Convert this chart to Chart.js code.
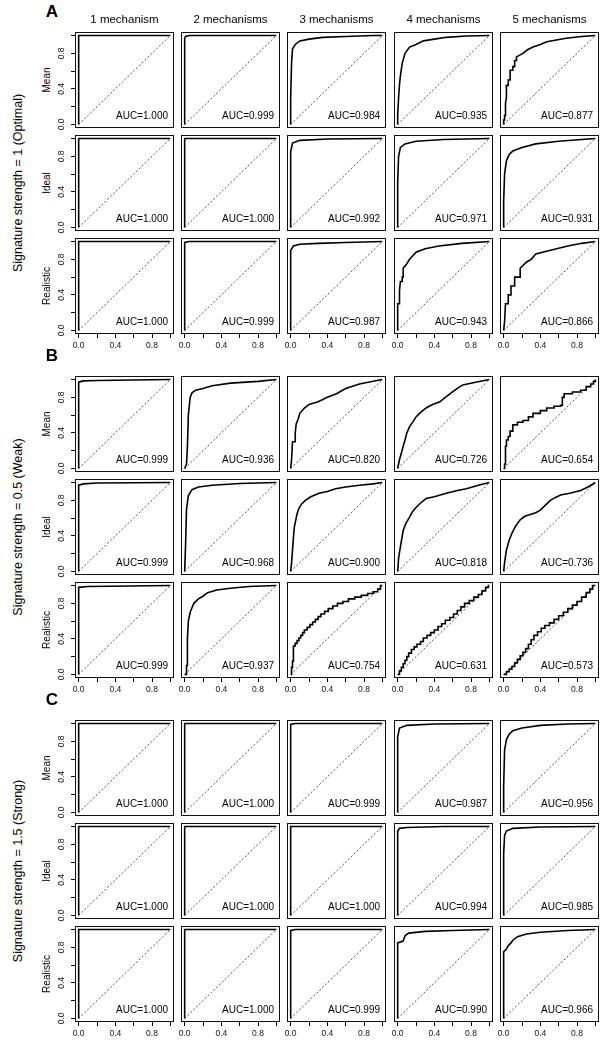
<!DOCTYPE html>
<html><head><meta charset="utf-8">
<script src="https://cdn.jsdelivr.net/npm/chart.js@4.4.1/dist/chart.umd.min.js"></script>
<style>
html,body{margin:0;padding:0;background:#fff;}
#page{position:relative;width:608px;height:1048px;overflow:hidden;font-family:"Liberation Sans",Arial,Helvetica,sans-serif;color:#000;}
.lbl{position:absolute;white-space:nowrap;line-height:1;}
.rot{transform:translate(-50%,-50%) rotate(-90deg);}
.ctr{transform:translate(-50%,-50%);}
canvas{position:absolute;}
</style></head><body><div id="page"></div>
<script>
// ---------- data ----------
const mechanisms = ["1 mechanism","2 mechanisms","3 mechanisms","4 mechanisms","5 mechanisms"];
const estimators = ["Mean","Ideal","Realistic"];
const sectionLetters = ["A","B","C"];
const sectionTitles = ["Signature strength = 1 (Optimal)","Signature strength = 0.5 (Weak)","Signature strength = 1.5 (Strong)"];
const tickValues = [0,0.2,0.4,0.6,0.8,1.0];
const tickLabels = ["0.0","","0.4","","0.8",""];
const diagonal = [0,1];

const aucA_Mean = [1.000,0.999,0.984,0.935,0.877];
const aucA_Ideal = [1.000,1.000,0.992,0.971,0.931];
const aucA_Realistic = [1.000,0.999,0.987,0.943,0.866];
const aucB_Mean = [0.999,0.936,0.820,0.726,0.654];
const aucB_Ideal = [0.999,0.968,0.900,0.818,0.736];
const aucB_Realistic = [0.999,0.937,0.754,0.631,0.573];
const aucC_Mean = [1.000,1.000,0.999,0.987,0.956];
const aucC_Ideal = [1.000,1.000,1.000,0.994,0.985];
const aucC_Realistic = [1.000,1.000,0.999,0.990,0.966];

// ROC curves: flat lists of (false positive rate, true positive rate) pairs
const rocA_Mean = [
 [0,0, 0,1, 1,1],
 [0,0, 0,0.97, 0.01,0.99, 0.05,1, 1,1],
 [0,0, 0,0.3, 0.01,0.7, 0.02,0.85, 0.05,0.9, 0.1,0.94, 0.2,0.96, 0.35,0.98, 0.6,0.99, 0.9,1, 1,1],
 [0,0, 0,0.1, 0.01,0.3, 0.02,0.45, 0.03,0.55, 0.05,0.69, 0.08,0.8, 0.13,0.87, 0.2,0.9, 0.28,0.94, 0.4,0.96, 0.53,0.98, 0.75,0.995, 1,1],
 [0,0, 0,0.05, 0.01,0.05, 0.01,0.1, 0.02,0.1, 0.02,0.24, 0.03,0.3, 0.03,0.44, 0.05,0.44, 0.05,0.5, 0.07,0.5, 0.07,0.61, 0.1,0.61, 0.1,0.65, 0.12,0.65, 0.12,0.72, 0.14,0.72, 0.14,0.76, 0.21,0.8, 0.26,0.84, 0.32,0.87, 0.4,0.9, 0.47,0.93, 0.68,0.97, 0.85,0.99, 1,1]
];
const rocA_Ideal = [
 [0,0, 0,1, 1,1],
 [0,0, 0,1, 1,1],
 [0,0, 0,0.85, 0.02,0.95, 0.1,0.98, 0.4,0.995, 1,1],
 [0,0, 0,0.5, 0.01,0.8, 0.03,0.9, 0.08,0.94, 0.2,0.97, 0.5,0.99, 1,1],
 [0,0, 0,0.3, 0.01,0.6, 0.03,0.75, 0.06,0.82, 0.1,0.86, 0.2,0.9, 0.35,0.94, 0.6,0.97, 0.85,0.99, 1,1]
];
const rocA_Realistic = [
 [0,0, 0,1, 1,1],
 [0,0, 0,0.99, 0.05,1, 1,1],
 [0,0, 0,0.9, 0.03,0.95, 0.1,0.97, 0.3,0.98, 0.6,0.99, 1,1],
 [0,0, 0,0.3, 0.02,0.3, 0.02,0.45, 0.03,0.55, 0.05,0.55, 0.05,0.6, 0.06,0.6, 0.06,0.7, 0.1,0.75, 0.13,0.8, 0.2,0.88, 0.3,0.92, 0.45,0.95, 0.7,0.98, 1,1],
 [0,0, 0.01,0.1, 0.02,0.3, 0.05,0.3, 0.05,0.4, 0.08,0.4, 0.08,0.5, 0.12,0.5, 0.12,0.6, 0.18,0.6, 0.18,0.7, 0.25,0.77, 0.3,0.8, 0.35,0.86, 0.5,0.9, 0.7,0.95, 0.85,0.98, 1,1]
];
const rocB_Mean = [
 [0,0, 0,0.97, 0.05,0.985, 0.2,0.99, 1,1],
 [0,0, 0.02,0.05, 0.03,0.25, 0.04,0.6, 0.05,0.7, 0.06,0.8, 0.08,0.85, 0.12,0.88, 0.2,0.9, 0.3,0.93, 0.5,0.96, 0.8,0.98, 1,1],
 [0,0, 0.01,0.1, 0.02,0.3, 0.05,0.3, 0.05,0.4, 0.06,0.5, 0.08,0.55, 0.1,0.62, 0.15,0.68, 0.2,0.72, 0.3,0.75, 0.4,0.8, 0.5,0.84, 0.6,0.9, 0.75,0.95, 0.9,0.98, 1,1],
 [0,0, 0.01,0.05, 0.02,0.1, 0.04,0.17, 0.06,0.25, 0.08,0.32, 0.1,0.4, 0.13,0.47, 0.17,0.53, 0.2,0.58, 0.25,0.63, 0.31,0.68, 0.38,0.72, 0.46,0.75, 0.52,0.8, 0.57,0.84, 0.65,0.9, 0.71,0.94, 0.85,0.97, 1,1],
 [0,0, 0.01,0, 0.01,0.05, 0.02,0.05, 0.02,0.25, 0.03,0.25, 0.03,0.32, 0.05,0.32, 0.05,0.36, 0.07,0.36, 0.07,0.42, 0.1,0.42, 0.1,0.49, 0.15,0.49, 0.15,0.52, 0.21,0.52, 0.21,0.54, 0.27,0.54, 0.27,0.58, 0.32,0.58, 0.32,0.62, 0.4,0.62, 0.4,0.65, 0.47,0.65, 0.47,0.68, 0.55,0.68, 0.55,0.7, 0.62,0.7, 0.62,0.71, 0.64,0.71, 0.64,0.8, 0.66,0.8, 0.66,0.84, 0.75,0.84, 0.75,0.86, 0.84,0.86, 0.84,0.88, 0.9,0.88, 0.9,0.92, 0.95,0.92, 0.95,0.95, 0.98,0.95, 0.98,0.98, 1,0.98, 1,1]
];
const rocB_Ideal = [
 [0,0, 0,0.97, 0.05,0.985, 0.2,0.995, 1,1],
 [0,0, 0.01,0.3, 0.02,0.7, 0.04,0.85, 0.08,0.92, 0.15,0.95, 0.3,0.97, 0.6,0.99, 1,1],
 [0,0, 0.01,0.1, 0.02,0.24, 0.03,0.38, 0.04,0.5, 0.07,0.65, 0.09,0.71, 0.12,0.76, 0.16,0.8, 0.22,0.84, 0.31,0.88, 0.4,0.9, 0.49,0.93, 0.6,0.95, 0.75,0.97, 0.9,0.985, 1,1],
 [0,0, 0.01,0.15, 0.03,0.28, 0.06,0.46, 0.09,0.54, 0.13,0.61, 0.16,0.67, 0.2,0.72, 0.25,0.77, 0.31,0.82, 0.4,0.84, 0.53,0.88, 0.65,0.91, 0.75,0.93, 0.88,0.97, 1,1],
 [0,0, 0.01,0.1, 0.03,0.24, 0.06,0.35, 0.09,0.43, 0.13,0.51, 0.18,0.58, 0.23,0.62, 0.29,0.64, 0.35,0.66, 0.4,0.69, 0.45,0.74, 0.51,0.8, 0.56,0.83, 0.62,0.86, 0.72,0.88, 0.84,0.91, 0.92,0.95, 1,1]
];
const rocB_Realistic = [
 [0,0, 0,0.98, 0.1,0.99, 1,1],
 [0,0, 0.02,0, 0.02,0.1, 0.03,0.1, 0.03,0.4, 0.04,0.6, 0.06,0.7, 0.08,0.75, 0.1,0.8, 0.15,0.85, 0.2,0.88, 0.25,0.92, 0.35,0.95, 0.5,0.97, 0.7,0.99, 1,1],
 [0,0, 0.01,0, 0.01,0.08, 0.02,0.08, 0.02,0.15, 0.03,0.15, 0.03,0.32, 0.05,0.32, 0.05,0.35, 0.07,0.35, 0.07,0.38, 0.09,0.38, 0.09,0.41, 0.11,0.41, 0.11,0.44, 0.13,0.44, 0.13,0.47, 0.15,0.47, 0.15,0.5, 0.18,0.5, 0.18,0.53, 0.21,0.53, 0.21,0.56, 0.24,0.56, 0.24,0.59, 0.27,0.59, 0.27,0.62, 0.3,0.62, 0.3,0.65, 0.33,0.65, 0.33,0.68, 0.37,0.68, 0.37,0.71, 0.41,0.71, 0.41,0.74, 0.46,0.74, 0.46,0.77, 0.51,0.77, 0.51,0.8, 0.57,0.8, 0.57,0.82, 0.63,0.82, 0.63,0.85, 0.7,0.85, 0.7,0.87, 0.77,0.87, 0.77,0.89, 0.84,0.89, 0.84,0.91, 0.9,0.91, 0.9,0.93, 0.95,0.93, 0.95,0.96, 0.98,0.96, 0.98,1, 1,1],
 [0,0, 0.02,0, 0.02,0.04, 0.04,0.04, 0.04,0.08, 0.06,0.08, 0.06,0.12, 0.08,0.12, 0.08,0.16, 0.1,0.16, 0.1,0.2, 0.12,0.2, 0.12,0.24, 0.15,0.24, 0.15,0.28, 0.18,0.28, 0.18,0.31, 0.21,0.31, 0.21,0.34, 0.25,0.34, 0.25,0.37, 0.28,0.37, 0.28,0.41, 0.32,0.41, 0.32,0.44, 0.36,0.44, 0.36,0.47, 0.4,0.47, 0.4,0.5, 0.44,0.5, 0.44,0.54, 0.48,0.54, 0.48,0.57, 0.52,0.57, 0.52,0.61, 0.57,0.61, 0.57,0.64, 0.61,0.64, 0.61,0.68, 0.65,0.68, 0.65,0.72, 0.69,0.72, 0.69,0.76, 0.73,0.76, 0.73,0.8, 0.78,0.8, 0.78,0.83, 0.83,0.83, 0.83,0.87, 0.88,0.87, 0.88,0.9, 0.92,0.9, 0.92,0.94, 0.96,0.94, 0.96,0.98, 0.99,0.98, 0.99,1, 1,1],
 [0,0, 0.03,0, 0.03,0.03, 0.06,0.03, 0.06,0.06, 0.09,0.06, 0.09,0.09, 0.12,0.09, 0.12,0.13, 0.15,0.13, 0.15,0.17, 0.18,0.17, 0.18,0.21, 0.21,0.21, 0.21,0.25, 0.24,0.25, 0.24,0.29, 0.27,0.29, 0.27,0.34, 0.3,0.34, 0.3,0.39, 0.33,0.39, 0.33,0.44, 0.37,0.44, 0.37,0.48, 0.41,0.48, 0.41,0.52, 0.45,0.52, 0.45,0.55, 0.5,0.55, 0.5,0.58, 0.55,0.58, 0.55,0.62, 0.6,0.62, 0.6,0.66, 0.65,0.66, 0.65,0.7, 0.7,0.7, 0.7,0.74, 0.75,0.74, 0.75,0.78, 0.8,0.78, 0.8,0.82, 0.85,0.82, 0.85,0.87, 0.9,0.87, 0.9,0.92, 0.94,0.92, 0.94,0.96, 0.97,0.96, 0.97,1, 1,1]
];
const rocC_Mean = [
 [0,0, 0,1, 1,1],
 [0,0, 0,1, 1,1],
 [0,0, 0,0.99, 0.05,1, 1,1],
 [0,0, 0,0.85, 0.02,0.95, 0.1,0.98, 0.4,0.995, 1,1],
 [0,0, 0,0.3, 0.01,0.7, 0.03,0.82, 0.06,0.88, 0.1,0.92, 0.2,0.95, 0.4,0.98, 0.7,0.995, 1,1]
];
const rocC_Ideal = [
 [0,0, 0,1, 1,1],
 [0,0, 0,1, 1,1],
 [0,0, 0,1, 1,1],
 [0,0, 0,0.95, 0.02,0.98, 0.1,0.99, 0.5,1, 1,1],
 [0,0, 0,0.7, 0.01,0.9, 0.03,0.95, 0.1,0.98, 0.4,0.995, 1,1]
];
const rocC_Realistic = [
 [0,0, 0,1, 1,1],
 [0,0, 0,1, 1,1],
 [0,0, 0,0.99, 0.05,1, 1,1],
 [0,0, 0,0.85, 0.06,0.87, 0.08,0.93, 0.12,0.96, 0.3,0.98, 0.6,0.99, 1,1],
 [0,0, 0,0.75, 0.03,0.78, 0.05,0.82, 0.08,0.85, 0.1,0.88, 0.15,0.92, 0.25,0.95, 0.4,0.97, 0.7,0.99, 1,1]
];

const rocSections = [[rocA_Mean,rocA_Ideal,rocA_Realistic],[rocB_Mean,rocB_Ideal,rocB_Realistic],[rocC_Mean,rocC_Ideal,rocC_Realistic]];
const aucSections = [[aucA_Mean,aucA_Ideal,aucA_Realistic],[aucB_Mean,aucB_Ideal,aucB_Realistic],[aucC_Mean,aucC_Ideal,aucC_Realistic]];

// ---------- layout ----------
const FONT = '"Liberation Sans", Arial, Helvetica, sans-serif';
const colX = [75,181,287,394,500];
const BOX_W = 99, BOX_H = 96, ROW_PITCH = 103;
const secTop = [32,376,720];
const P = 6;
const page = document.getElementById('page');

function addLabel(text, x, y, size, cls, bold){
  const d = document.createElement('div');
  d.className = 'lbl ' + cls;
  d.textContent = text;
  d.style.left = x+'px'; d.style.top = y+'px';
  d.style.fontSize = size+'px';
  if (bold) d.style.fontWeight = 'bold';
  page.appendChild(d);
}

const framePlugin = {
  id:'frameAuc',
  afterDatasetsDraw(chart, args, opts){
    const {ctx, chartArea:a} = chart;
    ctx.save();
    ctx.strokeStyle = '#111';
    ctx.lineWidth = 1;
    ctx.strokeRect(Math.round(a.left)+0.5, Math.round(a.top)+0.5, Math.round(a.right-a.left)-1, Math.round(a.bottom-a.top)-1);
    ctx.fillStyle = '#000';
    ctx.font = '10px ' + FONT;
    ctx.textAlign = 'right';
    ctx.textBaseline = 'middle';
    ctx.fillText(opts.text, a.right-6, a.bottom-12);
    ctx.restore();
  }
};

function axisCommon(show){
  return {
    type:'linear', min:-0.04, max:1.04, display:show,
    afterBuildTicks: sc => { sc.ticks = tickValues.map(v => ({value:v})); },
    grid:{display:true, drawOnChartArea:false, drawTicks:true, tickLength:4, color:'#000', lineWidth:1},
    border:{display:false},
    ticks:{autoSkip:false, padding:3, color:'#111', font:{size:8.5, family:FONT}, callback:(v,i)=>tickLabels[i]}
  };
}

function makePanel(s, r, c){
  const curve = rocSections[s][r][c];
  const auc = aucSections[s][r][c];
  const x0 = colX[c], y0 = secTop[s] + r*ROW_PITCH;
  const showY = c===0, showX = r===2;
  const yW = showY ? 19 : 0, xH = showX ? 19 : 0;
  const cv = document.createElement('canvas');
  const w = BOX_W + 2*P + yW, h = BOX_H + 2*P + xH;
  cv.width = w; cv.height = h;
  cv.style.width = w+'px'; cv.style.height = h+'px';
  cv.style.left = (x0 - P - yW)+'px'; cv.style.top = (y0 - P)+'px';
  page.appendChild(cv);
  const pts = [];
  for (let i=0;i<curve.length;i+=2) pts.push({x:curve[i], y:curve[i+1]});
  const xs = axisCommon(showX);
  xs.ticks.maxRotation = 0; xs.ticks.minRotation = 0;
  xs.afterFit = sc => { sc.height = xH; sc.paddingLeft = 0; sc.paddingRight = 0; };
  const ys = axisCommon(showY);
  ys.ticks.minRotation = 90; ys.ticks.maxRotation = 90; ys.ticks.crossAlign = 'center';
  ys.afterFit = sc => { sc.width = yW; sc.paddingTop = 0; sc.paddingBottom = 0; };
  new Chart(cv, {
    type:'scatter',
    data:{datasets:[
      {data:pts, showLine:true, borderColor:'#000', backgroundColor:'#000', borderWidth:1.6, pointRadius:0, tension:0},
      {data:[{x:diagonal[0],y:diagonal[0]},{x:diagonal[1],y:diagonal[1]}], showLine:true, borderColor:'#222', borderWidth:0.8, borderDash:[2,2], pointRadius:0}
    ]},
    options:{
      responsive:false, animation:false, events:[],
      layout:{padding:P},
      plugins:{legend:{display:false}, tooltip:{enabled:false}, frameAuc:{text:'AUC=' + auc.toFixed(3)}},
      scales:{x:xs, y:ys}
    },
    plugins:[framePlugin]
  });
}

for (let s=0;s<3;s++){
  addLabel(sectionLetters[s], 52, secTop[s]-21, 17, 'ctr', true);
  addLabel(sectionTitles[s], 18, secTop[s] + ROW_PITCH + BOX_H/2, 12.5, 'rot');
  for (let r=0;r<3;r++){
    addLabel(estimators[r], 47, secTop[s] + r*ROW_PITCH + BOX_H/2, 10, 'rot');
    for (let c=0;c<5;c++) makePanel(s, r, c);
  }
}
for (let c=0;c<5;c++) addLabel(mechanisms[c], colX[c] + BOX_W/2, 20, 11.5, 'ctr');
</script>
</body></html>
